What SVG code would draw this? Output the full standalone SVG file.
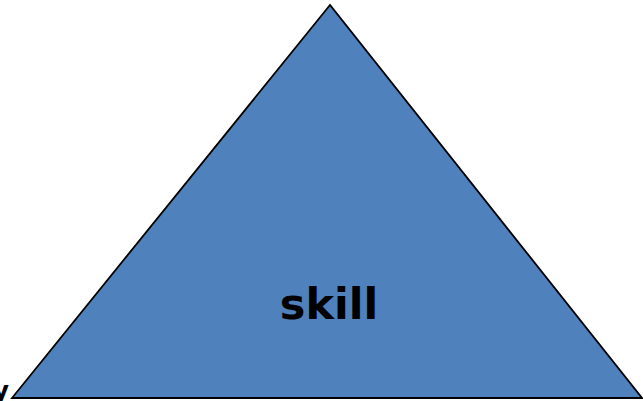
<svg xmlns="http://www.w3.org/2000/svg" width="643" height="401" viewBox="0 0 643 401">
<style>
.lbl{font-family:"DejaVu Sans",Verdana,sans-serif;font-weight:bold;fill:#000}
</style>
<rect width="643" height="401" fill="#fff"/>
<g id="pyramid">
<polygon points="330,5 12,398 642,398" fill="#4F81BD" stroke="#000" stroke-width="1.8" stroke-linejoin="miter"/>
<text class="lbl" x="329" y="319" font-size="43" text-anchor="middle">skill</text>
</g>
<g id="edge-label">
<text class="lbl" x="9" y="399" font-size="25" text-anchor="end">y</text>
</g>
<g id="connectors"></g>
</svg>
